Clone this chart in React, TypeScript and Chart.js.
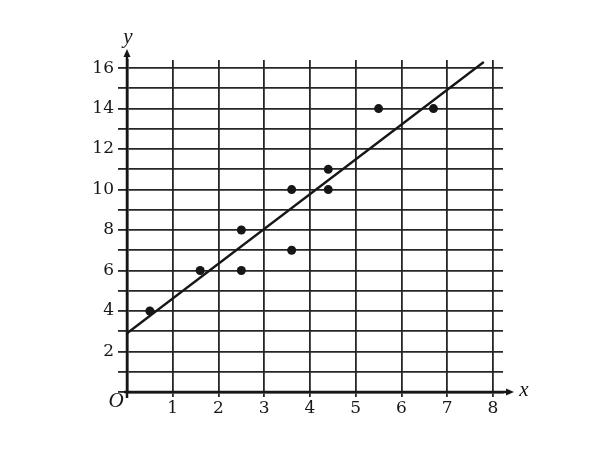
import React, { useEffect, useRef } from 'react';
import { Chart, registerables } from 'chart.js';

Chart.register(...registerables);

// scatter points
const pointX = [0.5, 1.6, 2.5, 2.5, 3.6, 3.6, 4.4, 4.4, 5.5, 6.7];
const pointY = [4, 6, 6, 8, 7, 10, 10, 11, 14, 14];

// the fitted line, from its two ends
const lineX = [0, 7.8];
const lineY = [2.9, 16.3];

const xTickLabels = [1, 2, 3, 4, 5, 6, 7, 8];
const yTickLabels = [2, 4, 6, 8, 10, 12, 14, 16];

const INK = '#161616';
const SERIF = "'Liberation Serif', 'DejaVu Serif', serif";
const TICK_FONT = "'DejaVu Serif', 'Liberation Serif', serif";

const axisDecor = {
    id: 'axisDecor',
    afterDraw(chart: any) {
        const { ctx, chartArea, scales } = chart;
        const x0 = scales.x.getPixelForValue(0);
        const y0 = scales.y.getPixelForValue(0);
        ctx.save();
        ctx.strokeStyle = INK;
        ctx.fillStyle = INK;
        ctx.lineWidth = 2.5;

        // y axis runs a bit past the grid, ends in an arrow
        const yTip = chartArea.top - 11;
        ctx.beginPath();
        ctx.moveTo(x0, y0 + 6);
        ctx.lineTo(x0, yTip + 6);
        ctx.stroke();
        ctx.beginPath();
        ctx.moveTo(x0, yTip);
        ctx.lineTo(x0 - 3.5, yTip + 8);
        ctx.lineTo(x0 + 3.5, yTip + 8);
        ctx.closePath();
        ctx.fill();

        // x axis arrow
        const xTip = chartArea.right + 11;
        ctx.beginPath();
        ctx.moveTo(x0 - 3, y0);
        ctx.lineTo(xTip - 6, y0);
        ctx.stroke();
        ctx.beginPath();
        ctx.moveTo(xTip, y0);
        ctx.lineTo(xTip - 8, y0 - 3.5);
        ctx.lineTo(xTip - 8, y0 + 3.5);
        ctx.closePath();
        ctx.fill();

        ctx.font = `italic 21px ${SERIF}`;
        ctx.textAlign = 'center';
        ctx.textBaseline = 'middle';
        ctx.fillText('y', x0 + 1, yTip - 12);
        ctx.fillText('x', xTip + 10, y0 - 2);
        ctx.font = `italic 21px ${SERIF}`;
        ctx.fillText('O', x0 - 11, y0 + 9);
        ctx.restore();
    }
};

export default function App() {
    const canvasRef = useRef<HTMLCanvasElement>(null);

    useEffect(() => {
        const chart = new Chart(canvasRef.current!, {
            type: 'scatter',
            data: {
                datasets: [
                    {
                        data: pointX.map((x, i) => ({ x, y: pointY[i] })),
                        backgroundColor: INK,
                        borderColor: INK,
                        pointRadius: 4.5,
                        pointBorderWidth: 0
                    },
                    {
                        data: lineX.map((x, i) => ({ x, y: lineY[i] })),
                        showLine: true,
                        borderColor: INK,
                        borderWidth: 2.3,
                        pointRadius: 0
                    }
                ]
            },
            options: {
                responsive: false,
                animation: false,
                layout: { padding: { top: 60, right: 97, left: 0, bottom: 0 } },
                plugins: {
                    legend: { display: false },
                    tooltip: { enabled: false }
                },
                scales: {
                    x: {
                        type: 'linear',
                        min: 0,
                        max: 8.22,
                        afterFit: (scale: any) => { scale.height = 58; },
                        border: { display: true, color: INK, width: 2.5 },
                        grid: { color: '#262626', lineWidth: 1.8, tickLength: 5 },
                        ticks: {
                            stepSize: 1,
                            includeBounds: false,
                            maxRotation: 0,
                            autoSkip: false,
                            padding: 1,
                            color: INK,
                            font: { family: TICK_FONT, size: 17 },
                            callback: (v: any) => (xTickLabels.includes(v) ? String(v) : '')
                        }
                    },
                    y: {
                        type: 'linear',
                        min: 0,
                        max: 16.4,
                        afterFit: (scale: any) => { scale.width = 127; },
                        border: { display: true, color: INK, width: 2.5 },
                        grid: { color: '#262626', lineWidth: 1.8, tickLength: 9 },
                        ticks: {
                            stepSize: 1,
                            includeBounds: false,
                            autoSkip: false,
                            padding: 4,
                            color: INK,
                            font: { family: TICK_FONT, size: 17 },
                            callback: (v: any) => (yTickLabels.includes(v) ? String(v) : '')
                        }
                    }
                }
            },
            plugins: [axisDecor]
        });
        return () => chart.destroy();
    }, []);

    return (
        <div style={{ position: 'fixed', left: 0, top: 0, width: 600, height: 450, background: '#fff' }}>
            <canvas ref={canvasRef} width={600} height={450} />
        </div>
    );
}
